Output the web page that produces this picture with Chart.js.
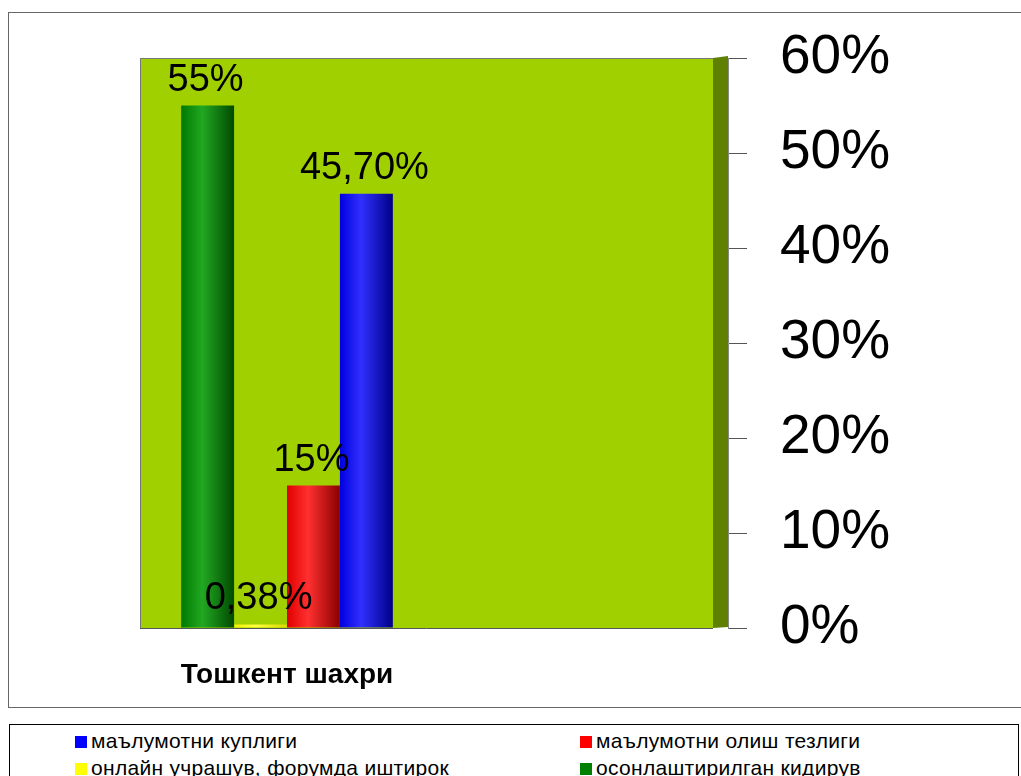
<!DOCTYPE html>
<html><head><meta charset="utf-8">
<script src="https://cdn.jsdelivr.net/npm/chart.js@4/dist/chart.umd.min.js"></script>
<style>
html,body{margin:0;padding:0;background:#fff;width:1021px;height:776px;overflow:hidden;font-family:"Liberation Sans",Arial,sans-serif;}
#box{position:absolute;left:8px;top:12px;width:1013px;height:696px;box-sizing:border-box;border:1px solid #666;border-right:none;}
#wrap{position:absolute;left:0;top:0;width:1012px;height:695px;}
#legend{position:absolute;left:9px;top:724px;width:1010px;height:70px;box-sizing:border-box;border:1px solid #000;}
.li{position:absolute;font-size:21px;letter-spacing:0.3px;color:#000;white-space:nowrap;line-height:24px;}
.sw{display:inline-block;width:12px;height:12px;margin-right:4px;vertical-align:0px;}
</style></head><body>
<div id="box"><div id="wrap"><canvas id="c"></canvas></div></div>
<div id="legend"></div>
<script>
const categories = ['Тошкент шахри', ''];
const seriesNames = ['осонлаштирилган кидирув', 'онлайн учрашув, форумда иштирок', 'маълумотни олиш тезлиги', 'маълумотни куплиги'];
const seriesValues = [[55, null], [0.38, null], [15, null], [45.7, null]];
const valueLabels = ['55%', '0,38%', '15%', '45,70%'];
const seriesColors = ['#008000', '#ffff00', '#ff0000', '#0000ff'];
const gradStops = [
  ['#007a00', '#22a822', '#004a00'],
  ['#f0f000', '#ffff40', '#d8d800'],
  ['#e00000', '#ff3030', '#8a0000'],
  ['#0000e0', '#3030ff', '#000088']
];
const yTicks = [0, 10, 20, 30, 40, 50, 60];
const legendOrder = [3, 2, 1, 0];

const bgPlugin = {
  id: 'bg',
  beforeDatasetsDraw(chart) {
    const {ctx, chartArea: a} = chart;
    ctx.save();
    ctx.fillStyle = '#a0d000';
    ctx.fillRect(a.left, a.top, a.right - a.left - 15, a.bottom - a.top);
    ctx.fillStyle = '#5f8000';
    ctx.beginPath();
    ctx.moveTo(a.right - 15, a.top); ctx.lineTo(a.right, a.top - 2);
    ctx.lineTo(a.right, a.bottom - 1); ctx.lineTo(a.right - 15, a.bottom);
    ctx.closePath(); ctx.fill();
    ctx.strokeStyle = '#555'; ctx.lineWidth = 1;
    ctx.beginPath(); ctx.moveTo(a.left, a.bottom + 0.5); ctx.lineTo(a.right - 15, a.bottom + 0.5); ctx.stroke();
    ctx.strokeStyle = '#777';
    ctx.beginPath(); ctx.moveTo(a.left + 0.5, a.top); ctx.lineTo(a.left + 0.5, a.bottom); ctx.stroke();
    ctx.beginPath(); ctx.moveTo(a.left, a.top + 0.5); ctx.lineTo(a.right - 15, a.top + 0.5); ctx.stroke();
    chart.data.datasets.forEach((ds, i) => {
      const meta = chart.getDatasetMeta(i);
      meta.data.forEach((el, j) => {
        if (ds.data[j] == null) return;
        const g = ctx.createLinearGradient(el.x - el.width / 2, 0, el.x + el.width / 2, 0);
        const s = gradStops[i];
        g.addColorStop(0, s[0]); g.addColorStop(0.4, s[1]); g.addColorStop(1, s[2]);
        el.options.backgroundColor = g;
      });
    });
    ctx.restore();
  },
  afterDatasetsDraw(chart) {
    const {ctx} = chart;
    ctx.save();
    ctx.font = '38px "Liberation Sans", Arial, sans-serif';
    ctx.fillStyle = '#000';
    ctx.textAlign = 'center';
    ctx.textBaseline = 'alphabetic';
    chart.data.datasets.forEach((ds, i) => {
      const el = chart.getDatasetMeta(i).data[0];
      ctx.fillText(valueLabels[i], el.x - 2, el.y - 15);
    });
    ctx.restore();
  }
};

new Chart(document.getElementById('c'), {
  type: 'bar',
  data: {
    labels: categories,
    datasets: seriesNames.map((n, i) => ({
      label: n,
      data: seriesValues[i],
      backgroundColor: seriesColors[i],
      borderWidth: 0,
      categoryPercentage: 0.72,
      barPercentage: 1.0
    }))
  },
  options: {
    responsive: true,
    maintainAspectRatio: false,
    animation: false,
    layout: {padding: {left: 131, top: 45, right: 0, bottom: 0}},
    plugins: {legend: {display: false}, tooltip: {enabled: false}},
    scales: {
      x: {
        grid: {display: false},
        border: {display: false},
        ticks: {color: '#000', font: {family: '"Liberation Sans", Arial, sans-serif', size: 28, weight: 'bold'}, padding: 22},
        afterFit(s) { s.height = 80; }
      },
      y: {
        position: 'right',
        min: 0, max: 60,
        afterBuildTicks(s) { s.ticks = yTicks.map(v => ({value: v})); },
        grid: {drawOnChartArea: false, tickLength: 19, color: '#555', tickColor: '#555'},
        border: {display: true, color: '#888'},
        ticks: {color: '#000', padding: 33, font: {family: '"Liberation Sans", Arial, sans-serif', size: 55}, callback: v => v + '%'},
        afterFit(s) { s.width = 293; s.paddingTop = 0; s.paddingBottom = 0; }
      }
    }
  },
  plugins: [bgPlugin]
});

const lg = document.getElementById('legend');
legendOrder.forEach((idx, k) => {
  const d = document.createElement('div');
  d.className = 'li';
  d.style.left = (k % 2 === 0 ? 65 : 570) + 'px';
  d.style.top = (k < 2 ? 4 : 31) + 'px';
  d.innerHTML = '<span class="sw" style="background:' + seriesColors[idx] + '"></span>';
  d.appendChild(document.createTextNode(seriesNames[idx]));
  lg.appendChild(d);
});
</script>
</body></html>
